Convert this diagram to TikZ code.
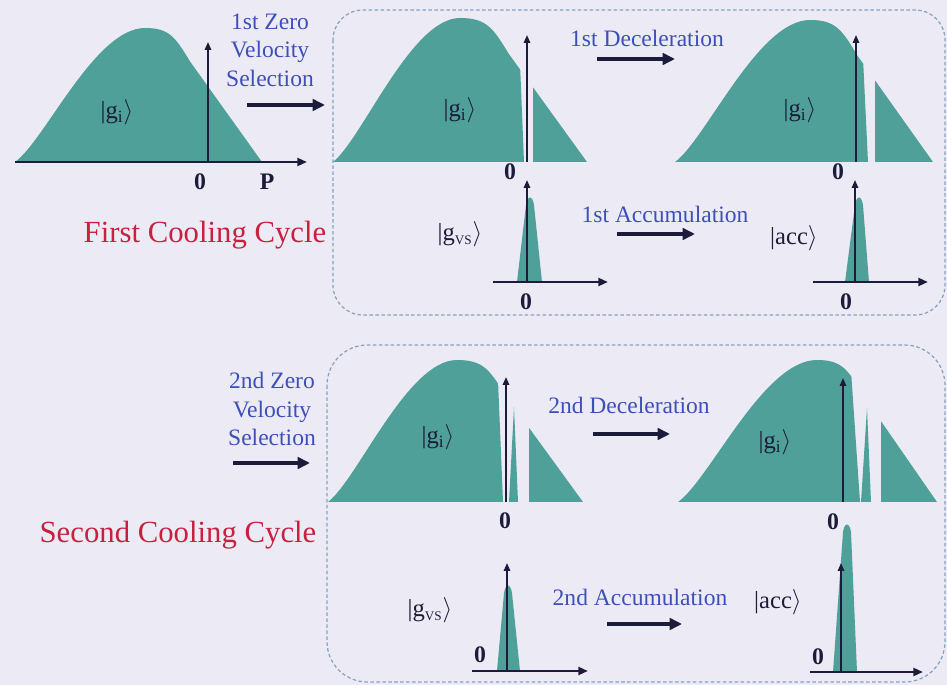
\documentclass[tikz,border=0pt]{standalone}
\usepackage{fontspec}
\setmainfont{Liberation Serif}
\usetikzlibrary{arrows.meta}
\definecolor{fig-teal}{HTML}{4FA098}
\definecolor{fig-ink}{HTML}{1C1B3A}
\definecolor{fig-blue}{HTML}{3D4FB8}
\definecolor{fig-red}{HTML}{C8203F}
\definecolor{fig-paper}{HTML}{ECEBF5}
\definecolor{fig-frame}{HTML}{86A2C2}
\newcommand{\ketg}[1]{|g\textsubscript{#1}$\rangle$}
% #1 left foot, #2 peak, #3 right foot, #4 base line, #5 height
\newcommand{\bellpath}[5]{(#1,#4)
  .. controls ({#1+0.23*(#2-#1)},{#4-0.16*#5}) and ({#1+0.615*(#2-#1)},{#4-#5}) .. (#2,{#4-#5})
  .. controls ({#2+0.21*(#3-#2)},{#4-#5}) and ({#2+0.26*(#3-#2)},{#4-0.93*#5}) .. ({#2+0.385*(#3-#2)},{#4-0.75*#5})
  -- (#3,#4) -- cycle}
% same bell with a hole: left part up to #6 (top) / #7 (base), right part from #8
\newcommand{\cutbell}[8]{%
  \begin{scope}
    \clip ({#1-2},{#4-#5-4}) -- (#6,{#4-#5-4}) -- (#7,#4) -- ({#1-2},#4) -- cycle;
    \fill[dist] \bellpath{#1}{#2}{#3}{#4}{#5};
  \end{scope}
  \begin{scope}
    \clip (#8,{#4-#5-4}) rectangle ({#3+2},#4);
    \fill[dist] \bellpath{#1}{#2}{#3}{#4}{#5};
  \end{scope}}
% narrow peak: #1 left foot, #2 top x, #3 right foot, #4 base line, #5 top y
\newcommand{\peakpath}[5]{(#1,#4) -- ({#2-4},{#5+10})
  .. controls ({#2-2.5},#5) and ({#2+2.5},#5) .. ({#2+4},{#5+10}) -- (#3,#4) -- cycle}

\begin{document}
\begin{tikzpicture}[
    x=0.02cm, y=-0.02cm,
    dist/.style={fill=fig-teal},
    vaxis/.style={draw=fig-ink, line width=1pt, -{Triangle[length=4.5pt,width=3.6pt]}},
    haxis/.style={draw=fig-ink, line width=1.7pt, -{Triangle[length=5.5pt,width=4.5pt]}},
    flow/.style={draw=fig-ink, line width=2.4pt, -{Triangle[length=7pt,width=6.5pt]}},
    stage/.style={text=fig-blue, font=\fontsize{13.4}{16.2}\selectfont, align=center, inner sep=0pt},
    cyclename/.style={text=fig-red, font=\fontsize{17.5}{21}\selectfont, inner sep=0pt},
    ket/.style={text=fig-ink, font=\fontsize{14}{17}\selectfont, inner sep=0pt},
    zero/.style={text=fig-ink, font=\fontsize{13.5}{16}\selectfont\bfseries, inner sep=0pt},
    cycbox/.style={draw=fig-frame, line width=0.7pt, dash pattern=on 2pt off 1.4pt},
]
\path[use as bounding box] (0,0) rectangle (947,685);
\fill[fig-paper] (0,0) rectangle (947,685);

\draw[cycbox, rounded corners=17pt] (333,10) rectangle (945,315);
\draw[cycbox, rounded corners=23pt] (327,345) rectangle (945,682);

% starting distribution
\fill[dist] \bellpath{15}{145}{262}{162}{134};
\draw[haxis] (15,162) -- (307,162);
\draw[vaxis] (208,162) -- (208,42);
\node[ket] (gstart) at (117,112) {\ketg{i}};
\node[zero] (ostart) at (200,182) {0};
\node[zero] (pstart) at (267,182) {P};

% first cycle
\cutbell{333}{460}{587}{162}{144}{518}{524}{533}
\draw[vaxis] (527,162) -- (527,35);
\cutbell{675}{810}{933}{162}{142}{861}{868}{875}
\draw[vaxis] (856,162) -- (856,35);
\fill[dist] \peakpath{517}{530}{542}{282}{195};
\draw[haxis] (493,282) -- (608,282);
\draw[vaxis] (527,282) -- (527,180);
\fill[dist] \peakpath{845}{859}{869}{282}{195};
\draw[haxis] (813,282) -- (928,282);
\draw[vaxis] (855,282) -- (855,180);

\node[ket] (gsel1) at (460,110) {\ketg{i}};
\node[ket] (gdec1) at (800,110) {\ketg{i}};
\node[ket] (gvs1) at (460,234) {\ketg{\fontsize{7.5}{8}\selectfont VS}};
\node[ket] (acc1) at (794,238) {|acc$\rangle$};
\node[zero] (osel1) at (510,172) {0};
\node[zero] (odec1) at (838,172) {0};
\node[zero] (ovs1) at (526,302) {0};
\node[zero] (oacc1) at (846,302) {0};

% second cycle
\cutbell{328}{457}{583}{502}{142}{497}{503}{529}
\fill[dist] (509,502) -- (514,407) -- (518,502) -- cycle;
\draw[vaxis] (506,502) -- (506,377);
\cutbell{678}{817}{937}{502}{142}{850}{860}{881}
\fill[dist] (861,502) -- (867,408) -- (871,502) -- cycle;
\draw[vaxis] (843,502) -- (843,378);
\fill[dist] \peakpath{497}{508}{520}{671}{583};
\draw[haxis] (472,671) -- (588,671);
\draw[vaxis] (507,671) -- (507,563);
\fill[dist] \peakpath{833}{847}{857}{672}{522};
\draw[haxis] (810,672) -- (923,672);
\draw[vaxis] (841,672) -- (841,563);

\node[ket] (gsel2) at (438,437) {\ketg{i}};
\node[ket] (gdec2) at (775,442) {\ketg{i}};
\node[ket] (gvs2) at (430,610) {\ketg{\fontsize{7.5}{8}\selectfont VS}};
\node[ket] (acc2) at (778,602) {|acc$\rangle$};
\node[zero] (osel2) at (505,521) {0};
\node[zero] (odec2) at (833,522) {0};
\node[zero] (ovs2) at (480,655) {0};
\node[zero] (oacc2) at (818,657) {0};

% stage labels and arrows
\node[stage] (zvs1) at (270,50) {1st Zero\\Velocity\\Selection};
\node[stage] (dec1) at (647,38) {1st Deceleration};
\node[stage] (accum1) at (665,214) {1st Accumulation};
\node[stage] (zvs2) at (272,409) {2nd Zero\\Velocity\\Selection};
\node[stage] (dec2) at (629,405) {2nd Deceleration};
\node[stage] (accum2) at (640,597) {2nd Accumulation};
\node[cyclename] (cyc1) at (205,235) {First Cooling Cycle};
\node[cyclename] (cyc2) at (178,535) {Second Cooling Cycle};

\coordinate (zvs1a) at (247,105);  \coordinate (zvs1b) at (325,105);
\coordinate (dec1a) at (597,59);   \coordinate (dec1b) at (675,59);
\coordinate (accum1a) at (617,234); \coordinate (accum1b) at (695,234);
\coordinate (zvs2a) at (233,463);  \coordinate (zvs2b) at (310,463);
\coordinate (dec2a) at (593,434);  \coordinate (dec2b) at (670,434);
\coordinate (accum2a) at (607,624); \coordinate (accum2b) at (682,624);
\draw[flow] (zvs1a) -- (zvs1b);
\draw[flow] (dec1a) -- (dec1b);
\draw[flow] (accum1a) -- (accum1b);
\draw[flow] (zvs2a) -- (zvs2b);
\draw[flow] (dec2a) -- (dec2b);
\draw[flow] (accum2a) -- (accum2b);
\end{tikzpicture}
\end{document}
